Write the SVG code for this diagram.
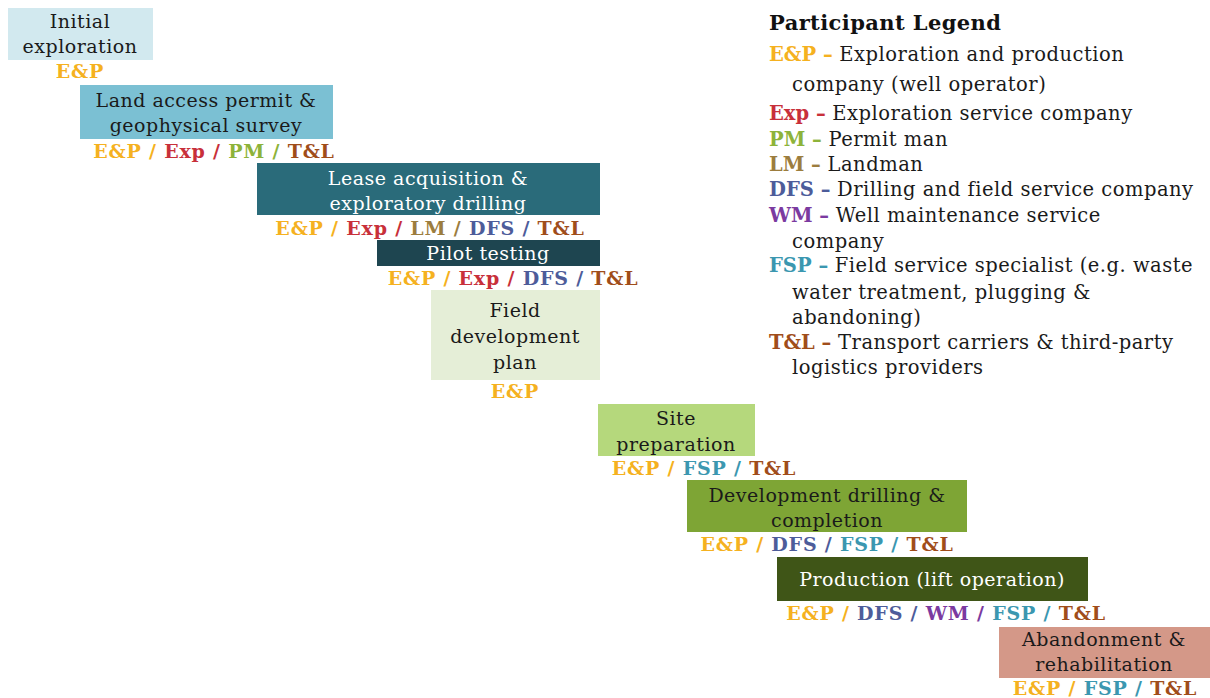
<svg xmlns="http://www.w3.org/2000/svg" width="1210" height="698" viewBox="0 0 1210 698">
  <style>
    .lbl { font-family: "DejaVu Serif", "Liberation Serif", serif; font-size: 19px; letter-spacing: 0.5px; text-anchor: middle; fill: #1a1a1a; }
    .lbl.w { fill: #ffffff; }
    .who { font-family: "DejaVu Serif", "Liberation Serif", serif; font-size: 19px; letter-spacing: 0.8px; font-weight: bold; text-anchor: middle; }
    .leg { font-family: "DejaVu Serif", "Liberation Serif", serif; font-size: 19.5px; letter-spacing: 0.5px; fill: #1a1a1a; }
    .leg.title { font-size: 21px; font-weight: bold; letter-spacing: 0.4px; fill: #111111; }
    .legk { font-weight: bold; letter-spacing: 0; }
    .ep { fill: #f5b120; }
    .exp { fill: #c8303a; }
    .pm { fill: #8db33a; }
    .lm { fill: #9c7d3e; }
    .dfs { fill: #4d5c9a; }
    .wm { fill: #7b3aa0; }
    .fsp { fill: #3b97b0; }
    .tl { fill: #a04d1a; }
  </style>
  <rect width="1210" height="698" fill="#ffffff"/>

  <!-- stages -->
  <g id="initial-exploration">
    <rect x="8" y="8" width="145" height="52" fill="#d2e9ef"/>
    <text class="lbl" x="80" y="28">Initial</text>
    <text class="lbl" x="80" y="53">exploration</text>
    <text class="who" x="80" y="78"><tspan class="ep">E&amp;P</tspan></text>
  </g>

  <g id="land-access">
    <rect x="80" y="85" width="253" height="54" fill="#7bc0d3"/>
    <text class="lbl" x="206" y="107">Land access permit &amp;</text>
    <text class="lbl" x="206" y="132">geophysical survey</text>
    <text class="who" x="214" y="158"><tspan class="ep">E&amp;P /</tspan> <tspan class="exp">Exp /</tspan> <tspan class="pm">PM /</tspan> <tspan class="tl">T&amp;L</tspan></text>
  </g>

  <g id="lease-acquisition">
    <rect x="257" y="163" width="343" height="52" fill="#2a6b7a"/>
    <text class="lbl w" x="428" y="185">Lease acquisition &amp;</text>
    <text class="lbl w" x="428" y="210">exploratory drilling</text>
    <text class="who" x="430" y="235"><tspan class="ep">E&amp;P /</tspan> <tspan class="exp">Exp /</tspan> <tspan class="lm">LM /</tspan> <tspan class="dfs">DFS /</tspan> <tspan class="tl">T&amp;L</tspan></text>
  </g>

  <g id="pilot-testing">
    <rect x="377" y="240" width="223" height="26" fill="#1e4550"/>
    <text class="lbl w" x="488" y="260">Pilot testing</text>
    <text class="who" x="513" y="285"><tspan class="ep">E&amp;P /</tspan> <tspan class="exp">Exp /</tspan> <tspan class="dfs">DFS /</tspan> <tspan class="tl">T&amp;L</tspan></text>
  </g>

  <g id="field-development-plan">
    <rect x="431" y="290" width="169" height="90" fill="#e5eed7"/>
    <text class="lbl" x="515" y="317">Field</text>
    <text class="lbl" x="515" y="343">development</text>
    <text class="lbl" x="515" y="369">plan</text>
    <text class="who" x="515" y="398"><tspan class="ep">E&amp;P</tspan></text>
  </g>

  <g id="site-preparation">
    <rect x="598" y="404" width="157" height="52" fill="#b5d87c"/>
    <text class="lbl" x="676" y="425">Site</text>
    <text class="lbl" x="676" y="451">preparation</text>
    <text class="who" x="704" y="475"><tspan class="ep">E&amp;P /</tspan> <tspan class="fsp">FSP /</tspan> <tspan class="tl">T&amp;L</tspan></text>
  </g>

  <g id="development-drilling">
    <rect x="687" y="480" width="280" height="52" fill="#7ea535"/>
    <text class="lbl" x="827" y="502">Development drilling &amp;</text>
    <text class="lbl" x="827" y="527">completion</text>
    <text class="who" x="827" y="551"><tspan class="ep">E&amp;P /</tspan> <tspan class="dfs">DFS /</tspan> <tspan class="fsp">FSP /</tspan> <tspan class="tl">T&amp;L</tspan></text>
  </g>

  <g id="production">
    <rect x="777" y="557" width="311" height="44" fill="#3f5517"/>
    <text class="lbl w" x="932" y="586">Production (lift operation)</text>
    <text class="who" x="946" y="620"><tspan class="ep">E&amp;P /</tspan> <tspan class="dfs">DFS /</tspan> <tspan class="wm">WM /</tspan> <tspan class="fsp">FSP /</tspan> <tspan class="tl">T&amp;L</tspan></text>
  </g>

  <g id="abandonment">
    <rect x="999" y="627" width="211" height="51" fill="#d49888"/>
    <text class="lbl" x="1104" y="646">Abandonment &amp;</text>
    <text class="lbl" x="1104" y="671">rehabilitation</text>
    <text class="who" x="1105" y="695"><tspan class="ep">E&amp;P /</tspan> <tspan class="fsp">FSP /</tspan> <tspan class="tl">T&amp;L</tspan></text>
  </g>

  <!-- participant legend -->
  <g id="legend">
    <text class="leg title" x="769" y="30">Participant Legend</text>
    <text class="leg" x="769" y="61"><tspan class="legk ep">E&amp;P –</tspan> Exploration and production</text>
    <text class="leg" x="792" y="91">company (well operator)</text>
    <text class="leg" x="769" y="120"><tspan class="legk exp">Exp –</tspan> Exploration service company</text>
    <text class="leg" x="769" y="146"><tspan class="legk pm">PM –</tspan>  Permit man</text>
    <text class="leg" x="769" y="171"><tspan class="legk lm">LM –</tspan> Landman</text>
    <text class="leg" x="769" y="196"><tspan class="legk dfs">DFS –</tspan> Drilling and field service company</text>
    <text class="leg" x="769" y="222"><tspan class="legk wm">WM –</tspan> Well maintenance service</text>
    <text class="leg" x="792" y="248">company</text>
    <text class="leg" x="769" y="272"><tspan class="legk fsp">FSP –</tspan> Field service specialist (e.g. waste</text>
    <text class="leg" x="792" y="299">water treatment, plugging &amp;</text>
    <text class="leg" x="792" y="324">abandoning)</text>
    <text class="leg" x="769" y="349"><tspan class="legk tl">T&amp;L –</tspan> Transport carriers &amp; third-party</text>
    <text class="leg" x="792" y="374">logistics providers</text>
  </g>
</svg>
